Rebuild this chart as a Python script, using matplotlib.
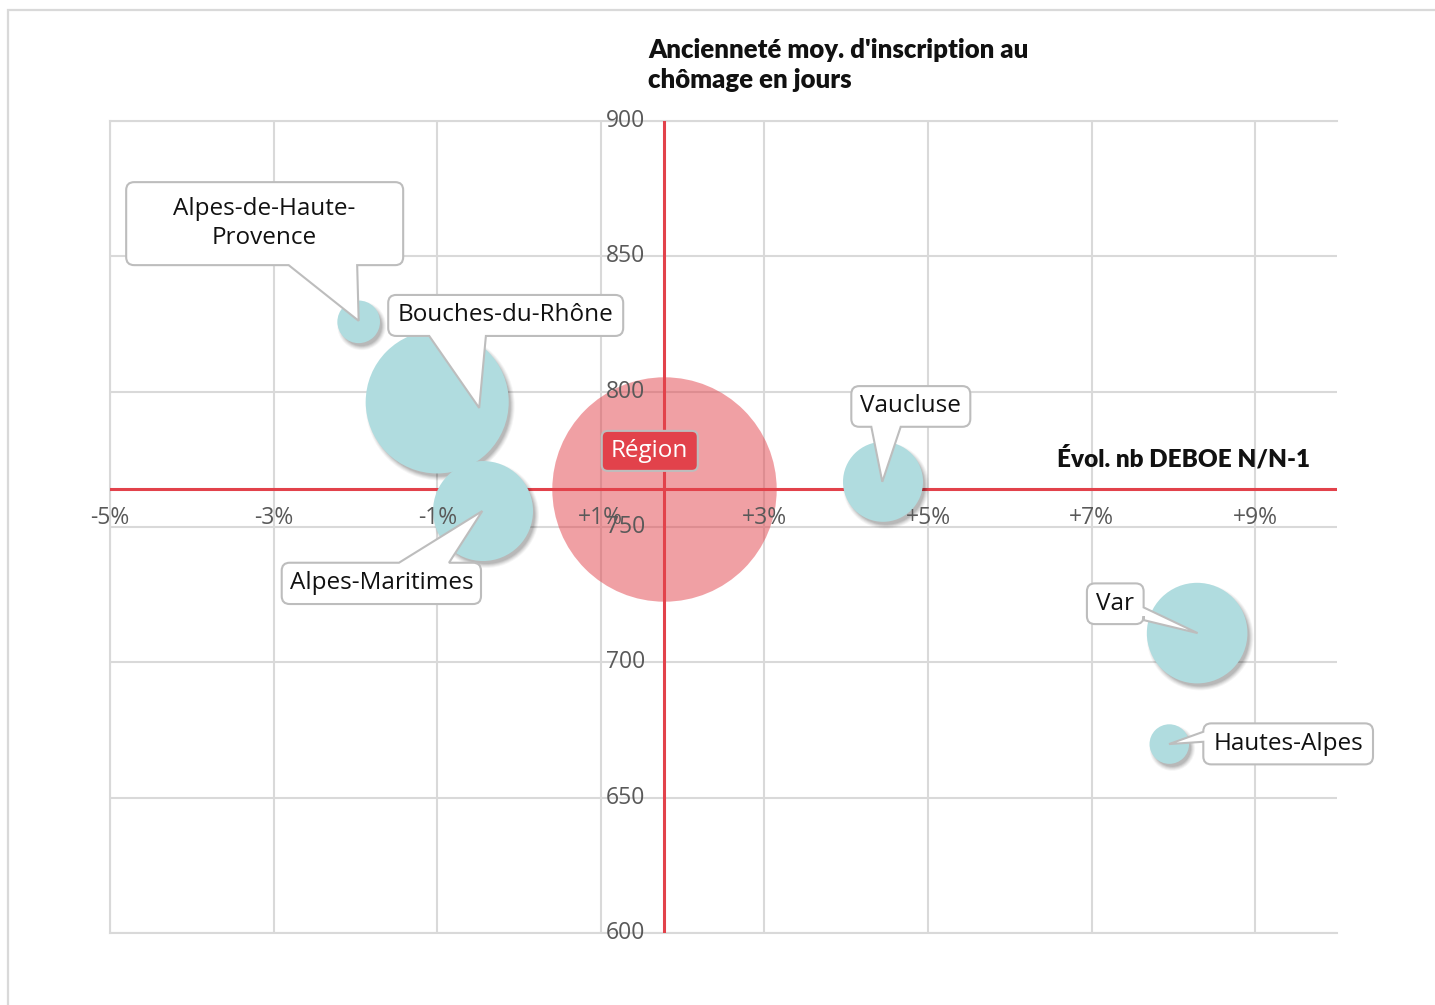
import numpy as np
import matplotlib
matplotlib.use("Agg")
import matplotlib.pyplot as plt
from matplotlib.path import Path
from matplotlib.patches import PathPatch, Rectangle
from matplotlib import transforms as mtransforms

# ---------------- data ----------------
departements = ["Alpes-de-Haute-Provence", "Bouches-du-Rhône", "Alpes-Maritimes",
                "Vaucluse", "Var", "Hautes-Alpes"]
labels = ["Alpes-de-Haute-\nProvence", "Bouches-du-Rhône", "Alpes-Maritimes",
          "Vaucluse", "Var", "Hautes-Alpes"]
evol_deboe = [-1.96, -1.00, -0.44, 4.45, 8.29, 7.95]          # Évol. nb DEBOE N/N-1 (%)
anciennete = [825.8, 796.2, 755.9, 766.7, 710.8, 669.8]        # jours
nb_deboe = [15100, 170000, 83100, 53200, 84100, 13000]         # taille des bulles

region_label = "Région"
region_evol = 1.77
region_anciennete = 763.9
region_nb = 418500

x_ticks = [-5, -3, -1, 1, 3, 5, 7, 9]
y_ticks = [600, 650, 700, 750, 800, 850, 900]

title = "Ancienneté moy. d'inscription au\nchômage en jours"
x_title = "Évol. nb DEBOE N/N-1"

# ---------------- style / layout ----------------
W, H, DPI = 1435, 1005, 100
BLUE = "#b0dcdf"
RED = "#e2424b"
GRID = "#d9d9d9"
TICK_COLOR = "#595959"
BOX_EDGE = "#bdbdbd"
BUBBLE_SCALE = 0.17344          # pixels of radius per sqrt(value)
FONT = "Open Sans"
BOLD_FONT = "Lato"

# callout geometry in pixels relative to the bubble centre (y pointing down)
CALLOUTS = {
    "Alpes-de-Haute-Provence": dict(box=(-232.5, -139.7, 44.5, -56.7), side="bottom", base=(-70, -1.5), tip=(0, -1)),
    "Bouches-du-Rhône": dict(box=(-49, -107, 186, -66), side="bottom", base=(-8, 48.7), tip=(42, 6)),
    "Alpes-Maritimes": dict(box=(-201.3, 51.7, -2, 93), side="top", base=(-84, -34), tip=(-0.7, 0)),
    "Vaucluse": dict(box=(-31.7, -95.7, 87.3, -55), side="bottom", base=(-11.7, 17.7), tip=(-0.7, 0)),
    "Var": dict(box=(-110.2, -49.7, -53.5, -9), side="right", base=(-25.7, -13), tip=(0.5, 0)),
    "Hautes-Alpes": dict(box=(34, -20.7, 203.7, 20.3), side="left", base=(-12.3, -2.3), tip=(-0.3, 0)),
}
REGION_BOX = (-62, -58.5, 34, -18.5)

fig = plt.figure(figsize=(W / DPI, H / DPI), dpi=DPI)
fig.patch.set_facecolor("white")

# outer frame
fig.patches.append(Rectangle((8 / W, -0.05), 1.2, 1 - 10 / H + 0.05, transform=fig.transFigure,
                             fill=False, ec=GRID, lw=1.6, zorder=0))

ax = fig.add_axes([110 / W, 1 - 933 / H, 1227 / W, 812 / H])
ax.set_xlim(-5, 10)
ax.set_ylim(600, 900)
ax.set_xticks(x_ticks)
ax.set_yticks(y_ticks)
ax.tick_params(length=0, labelbottom=False, labelleft=False)
ax.set_axisbelow(True)
ax.grid(True, color=GRID, lw=1.5, zorder=0)
ax.spines["right"].set_visible(False)
for s in ["left", "bottom", "top"]:
    ax.spines[s].set_color(GRID)
    ax.spines[s].set_linewidth(1.5)
    ax.spines[s].set_zorder(0.5)

def size_pts2(v):
    r_px = BUBBLE_SCALE * np.sqrt(np.asarray(v, dtype=float))
    return (2 * r_px * 72.0 / DPI) ** 2

# region bubble
ax.scatter([region_evol], [region_anciennete], s=size_pts2([region_nb]), color=RED,
           alpha=0.5, linewidths=0, zorder=2)

# crossing axes (red)
ax.axhline(region_anciennete, color=RED, lw=2.2, zorder=2.5)
ax.axvline(region_evol, color=RED, lw=2.2, zorder=2.5)

# shadows of department bubbles
shadow_tr = mtransforms.offset_copy(ax.transData, fig=fig, x=3, y=-4, units="dots")
base_s = BUBBLE_SCALE * np.sqrt(np.asarray(nb_deboe, dtype=float))
for grow, a in [(3.0, 0.04), (2.0, 0.05), (1.0, 0.06), (0.0, 0.08), (-1.0, 0.08)]:
    ss = (2 * (base_s + grow) * 72.0 / DPI) ** 2
    ax.scatter(evol_deboe, anciennete, s=ss, color="black", alpha=a, linewidths=0,
               transform=shadow_tr, zorder=2.7)

# department bubbles
ax.scatter(evol_deboe, anciennete, s=size_pts2(nb_deboe), color=BLUE, linewidths=0, zorder=3)

# tick labels along the crossing axes
for xt in x_ticks:
    tr = mtransforms.offset_copy(ax.transData, fig=fig, x=0, y=-29, units="dots")
    ax.text(xt, region_anciennete, f"{xt:+d}%", transform=tr,
            ha="center", va="center", fontsize=16.5, color=TICK_COLOR, family=FONT, zorder=5)
for yt in y_ticks:
    tr = mtransforms.offset_copy(ax.transData, fig=fig, x=-19, y=0, units="dots")
    ax.text(region_evol, yt, f"{yt}", transform=tr, ha="right", va="center",
            fontsize=16.5, color=TICK_COLOR, family=FONT, zorder=5)

# titles
fig.text(648 / W, 1 - 65 / H, title, ha="left", va="center", fontsize=18.5,
         fontweight="heavy", family=BOLD_FONT, linespacing=1.32, color="#111111")
fig.text(1310 / W, 1 - 458 / H, x_title, ha="right", va="center", fontsize=17.5,
         fontweight="heavy", family=BOLD_FONT, color="#111111")

# ---------------- callouts ----------------
def callout_path(cx, cy, box, side=None, base=None, tip=None, r=8):
    L, T, R, B = box
    pts, codes = [], []

    def mv(p):
        pts.append(p); codes.append(Path.MOVETO)

    def ln(p):
        pts.append(p); codes.append(Path.LINETO)

    def cv(c, p):
        pts.extend([c, p]); codes.extend([Path.CURVE3, Path.CURVE3])

    mv((L + r, T))
    if side == "top":
        ln((base[0], T)); ln(tip); ln((base[1], T))
    ln((R - r, T)); cv((R, T), (R, T + r))
    if side == "right":
        ln((R, base[0])); ln(tip); ln((R, base[1]))
    ln((R, B - r)); cv((R, B), (R - r, B))
    if side == "bottom":
        ln((base[1], B)); ln(tip); ln((base[0], B))
    ln((L + r, B)); cv((L, B), (L, B - r))
    if side == "left":
        ln((L, base[1])); ln(tip); ln((L, base[0]))
    ln((L, T + r)); cv((L, T), (L + r, T))
    pts.append((L + r, T)); codes.append(Path.CLOSEPOLY)
    verts = np.array([(cx + px, cy - py) for px, py in pts])
    return Path(verts, codes)

ident = mtransforms.IdentityTransform()
for name, lab, x, y in zip(departements, labels, evol_deboe, anciennete):
    cfg = CALLOUTS[name]
    cx, cy = ax.transData.transform((x, y))
    p = callout_path(cx, cy, cfg["box"], cfg["side"], cfg["base"], cfg["tip"])
    fig.patches.append(PathPatch(p, transform=ident, fc="white", ec=BOX_EDGE, lw=1.5, zorder=6))
    L, T, R, B = cfg["box"]
    tx, ty = cx + (L + R) / 2, cy - (T + B) / 2
    fig.text(tx, ty, lab, transform=ident, ha="center", va="center", fontsize=17.5,
             family=FONT, color="#111111", linespacing=1.25, zorder=7)

# region label
cx, cy = ax.transData.transform((region_evol, region_anciennete))
p = callout_path(cx, cy, REGION_BOX, r=6)
fig.patches.append(PathPatch(p, transform=ident, fc=RED, ec=BOX_EDGE, lw=1.5, zorder=6))
L, T, R, B = REGION_BOX
fig.text(cx + (L + R) / 2, cy - (T + B) / 2, region_label, transform=ident, ha="center",
         va="center", fontsize=17.5, family=FONT, color="white", zorder=7)

fig.savefig("out.png", dpi=DPI)
